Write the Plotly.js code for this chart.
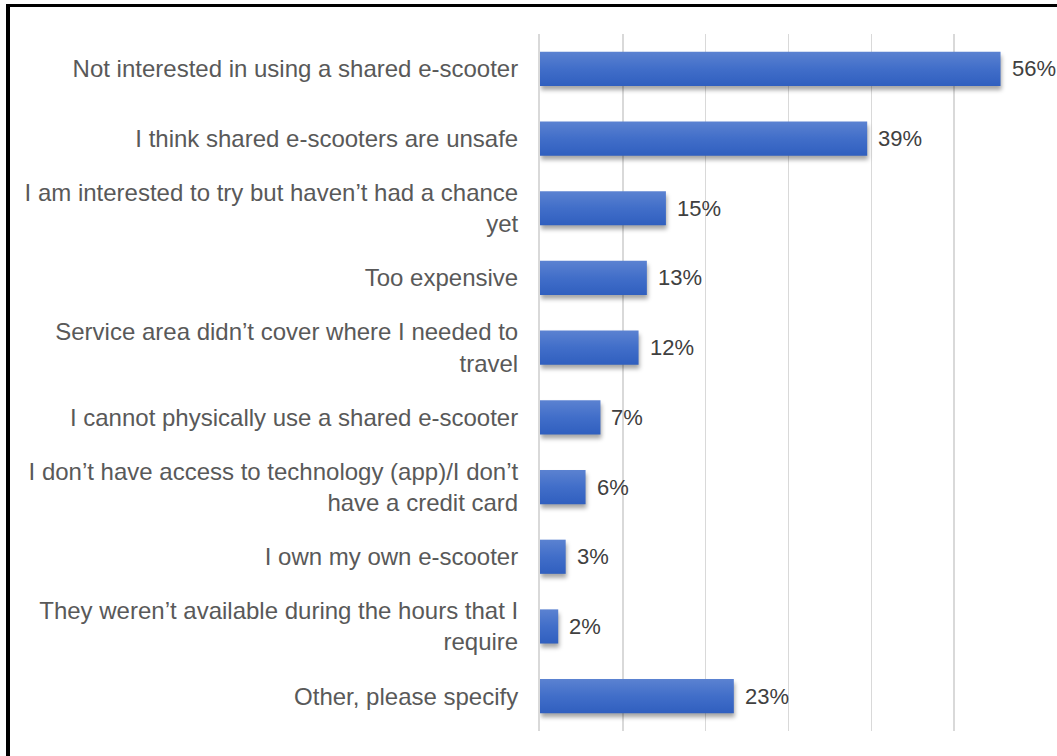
<!DOCTYPE html>
<html>
<head>
<meta charset="utf-8">
<script src="https://cdn.plot.ly/plotly-3.0.1.min.js"></script>
<style>
  html, body { margin: 0; padding: 0; background: #ffffff; }
  #wrap { position: relative; width: 1057px; height: 756px; overflow: hidden; }
  #chart { position: absolute; left: 0; top: 0; width: 1057px; height: 756px; }
  #bl { position: absolute; left: 6px; top: 4px; width: 4px; height: 752px; background: #000; pointer-events: none; }
  #bt { position: absolute; left: 6px; top: 4px; width: 1051px; height: 3px; background: #000; pointer-events: none; }
  #chart .barlayer .point path { fill: url(#barGrad) !important; }
  #chart .barlayer { filter: drop-shadow(1px 4px 2px rgba(0,0,0,0.35)); }
</style>
</head>
<body>
<div id="wrap">
  <div id="chart"></div>
  <div id="bl"></div>
  <div id="bt"></div>
</div>
<script>
const categories = [
  "Not interested in using a shared e-scooter",
  "I think shared e-scooters are unsafe",
  "I am interested to try but haven’t had a chance<br>yet",
  "Too expensive",
  "Service area didn’t cover where I needed to<br>travel",
  "I cannot physically use a shared e-scooter",
  "I don’t have access to technology (app)/I don’t<br>have a credit card",
  "I own my own e-scooter",
  "They weren’t available during the hours that I<br>require",
  "Other, please specify"
];
// bar lengths (labels are the rounded values shown)
const values = [55.6, 39.5, 15.2, 12.9, 11.9, 7.3, 5.5, 3.1, 2.2, 23.4];
const valueLabels = ["56%", "39%", "15%", "13%", "12%", "7%", "6%", "3%", "2%", "23%"];
const tickVals = [0, 10, 20, 30, 40, 50, 60];

const FONT = "Liberation Sans, Arial, sans-serif";

const trace = {
  type: "bar",
  orientation: "h",
  y: categories,
  x: values,
  marker: { color: "#4471C9", line: { width: 0 } },
  hoverinfo: "skip"
};

const annotations = categories.map((c, i) => ({
  x: values[i],
  y: c,
  xref: "x",
  yref: "y",
  text: valueLabels[i],
  showarrow: false,
  xanchor: "left",
  yanchor: "middle",
  xshift: 9,
  font: { family: FONT, size: 22, color: "#404040" }
}));

const layout = {
  width: 1057,
  height: 756,
  margin: { l: 540, r: 20, t: 34, b: 25 },
  paper_bgcolor: "#ffffff",
  plot_bgcolor: "#ffffff",
  showlegend: false,
  bargap: 0.51,
  font: { family: FONT, size: 24, color: "#595959" },
  xaxis: {
    range: [0, 60],
    tickvals: tickVals,
    showticklabels: false,
    showgrid: true,
    gridcolor: "#d9d9d9",
    gridwidth: 1.5,
    zeroline: false,
    showline: false,
    fixedrange: true
  },
  yaxis: {
    autorange: "reversed",
    showgrid: false,
    zeroline: false,
    showline: true,
    linecolor: "#d9d9d9",
    linewidth: 2,
    ticks: "",
    ticklabelstandoff: 15,
    tickfont: { family: FONT, size: 24, color: "#595959" },
    fixedrange: true
  },
  annotations: annotations
};

Plotly.newPlot("chart", [trace], layout, { displayModeBar: false, staticPlot: true }).then(function (gd) {
  const svg = gd.querySelector("svg.main-svg");
  const ns = "http://www.w3.org/2000/svg";
  let defs = svg.querySelector("defs");
  if (!defs) { defs = document.createElementNS(ns, "defs"); svg.insertBefore(defs, svg.firstChild); }
  const grad = document.createElementNS(ns, "linearGradient");
  grad.setAttribute("id", "barGrad");
  grad.setAttribute("x1", "0"); grad.setAttribute("y1", "0");
  grad.setAttribute("x2", "0"); grad.setAttribute("y2", "1");
  [["0", "#5B82D1"], ["0.5", "#416EC9"], ["1", "#305FBF"]].forEach(function (s) {
    const st = document.createElementNS(ns, "stop");
    st.setAttribute("offset", s[0]);
    st.setAttribute("stop-color", s[1]);
    grad.appendChild(st);
  });
  defs.appendChild(grad);
});
</script>
</body>
</html>
